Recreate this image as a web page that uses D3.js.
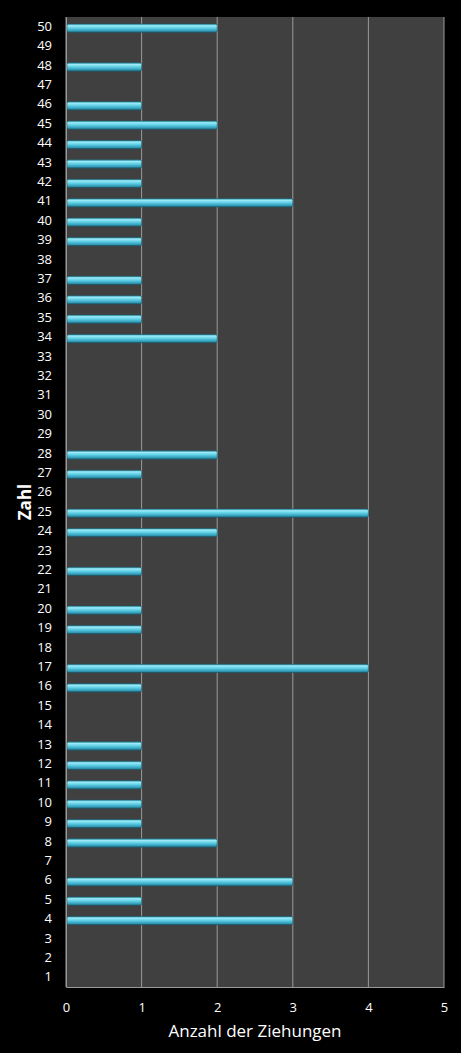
<!DOCTYPE html>
<html>
<head>
<meta charset="utf-8">
<script src="https://cdn.jsdelivr.net/npm/d3@7"></script>
<style>
  html, body { margin: 0; padding: 0; background: #000; }
  svg { display: block; }
  text { font-family: "Open Sans", "Noto Sans", sans-serif; fill: #fff; }
</style>
</head>
<body>
<svg id="chart" width="461" height="1053"></svg>
<script>
// === DATA ====================================================
const zahlen = d3.range(50, 0, -1);   // 50 .. 1, top to bottom
const ziehungen = [
    2, 0, 1, 0, 1, 2, 1, 1, 1, 3,     // 50 .. 41
    1, 1, 0, 1, 1, 1, 2, 0, 0, 0,     // 40 .. 31
    0, 0, 2, 1, 0, 4, 2, 0, 1, 0,     // 30 .. 21
    1, 1, 0, 4, 1, 0, 0, 1, 1, 1,     // 20 .. 11
    1, 1, 2, 0, 3, 1, 3, 0, 0, 0      // 10 .. 1
];
const xTicks = [0, 1, 2, 3, 4, 5];

const rows = zahlen.map((z, i) => ({ zahl: z, anzahl: ziehungen[i] }));

// === LAYOUT ==================================================
const svg = d3.select("#chart");
const margin = { top: 17, right: 17, bottom: 66, left: 66 };
const width = 461 - margin.left - margin.right;
const height = 1053 - margin.top - margin.bottom;

const x = d3.scaleLinear().domain([0, 5]).range([0, width]);
const y = d3.scaleBand().domain(zahlen).range([0, height]).paddingInner(0.57).paddingOuter(0.285);

// bar gradient
const defs = svg.append("defs");
const grad = defs.append("linearGradient")
    .attr("id", "barGrad")
    .attr("x1", 0).attr("y1", 0).attr("x2", 0).attr("y2", 1);
grad.append("stop").attr("offset", "0%").attr("stop-color", "#3aa6c0");
grad.append("stop").attr("offset", "20%").attr("stop-color", "#9beaf6");
grad.append("stop").attr("offset", "50%").attr("stop-color", "#5ccde4");
grad.append("stop").attr("offset", "85%").attr("stop-color", "#2f98b4");
grad.append("stop").attr("offset", "100%").attr("stop-color", "#1b5f73");

const g = svg.append("g").attr("transform", `translate(${margin.left},${margin.top})`);

// plot background
g.append("rect")
    .attr("width", width)
    .attr("height", height)
    .attr("fill", "#404040");

// vertical gridlines
g.append("g")
    .selectAll("line")
    .data(xTicks)
    .join("line")
    .attr("x1", d => x(d)).attr("x2", d => x(d))
    .attr("y1", 0).attr("y2", height)
    .attr("stroke", "#9a9a9a")
    .attr("stroke-width", 1);

// bars (sit a touch below the label centre, as in the original)
g.append("g")
    .selectAll("rect")
    .data(rows.filter(d => d.anzahl > 0))
    .join("rect")
    .attr("x", 1)
    .attr("y", d => y(d.zahl) + 1.5)
    .attr("width", d => x(d.anzahl) - 1)
    .attr("height", y.bandwidth())
    .attr("rx", 1.5)
    .attr("fill", "url(#barGrad)")
    .attr("stroke", "#1e5a6a")
    .attr("stroke-width", 0.6);

// x axis
const xAxis = g.append("g")
    .attr("transform", `translate(0,${height})`)
    .call(d3.axisBottom(x).tickValues(xTicks).tickFormat(d3.format("d")).tickSize(0).tickPadding(16));
xAxis.select(".domain").attr("stroke", "#9a9a9a");
xAxis.selectAll("text").attr("font-size", 13).attr("fill", "#fff");

// y axis
const yAxis = g.append("g")
    .call(d3.axisLeft(y).tickSize(0).tickPadding(14));
yAxis.select(".domain").attr("stroke", "#9a9a9a");
yAxis.selectAll("text").attr("font-size", 13).attr("fill", "#fff");

// axis titles
svg.append("text")
    .attr("x", margin.left + width / 2)
    .attr("y", 1037)
    .attr("text-anchor", "middle")
    .attr("font-size", 17)
    .text("Anzahl der Ziehungen");

svg.append("text")
    .attr("transform", `translate(31,${margin.top + height / 2}) rotate(-90)`)
    .attr("text-anchor", "middle")
    .attr("font-size", 17)
    .attr("font-weight", "bold")
    .text("Zahl");
</script>
</body>
</html>
